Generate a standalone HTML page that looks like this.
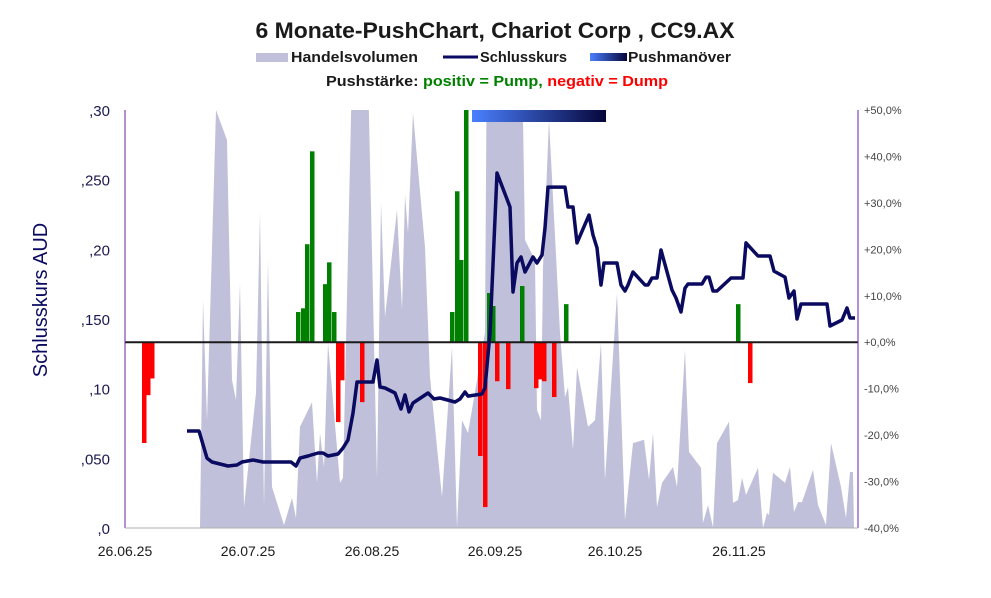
<!DOCTYPE html>
<html><head><meta charset="utf-8"><style>
body{margin:0;background:#fff;}
svg text{font-family:"Liberation Sans",sans-serif;}
</style></head><body>
<svg id="c" width="991" height="593" viewBox="0 0 991 593" xmlns="http://www.w3.org/2000/svg">
<defs><linearGradient id="pg" x1="0" x2="1"><stop offset="0" stop-color="#4a80ff"/><stop offset="1" stop-color="#06063a"/></linearGradient>
<clipPath id="pc"><rect x="125" y="110" width="733" height="418"/></clipPath></defs>
<text x="495" y="38" text-anchor="middle" font-size="22.5" font-weight="bold" fill="#1a1a1a" textLength="479" lengthAdjust="spacingAndGlyphs">6 Monate-PushChart, Chariot Corp , CC9.AX</text>
<g>
<rect x="256" y="53" width="32" height="9" fill="#c0c0da"/>
<text x="291" y="62" font-size="15" font-weight="bold" fill="#1a1a1a" textLength="127" lengthAdjust="spacingAndGlyphs">Handelsvolumen</text>
<line x1="443" y1="57" x2="478" y2="57" stroke="#0a0a60" stroke-width="3"/>
<text x="480" y="62" font-size="15" font-weight="bold" fill="#1a1a1a" textLength="87" lengthAdjust="spacingAndGlyphs">Schlusskurs</text>
<rect x="590" y="53" width="37" height="8" fill="url(#pg)"/>
<text x="628" y="62" font-size="15" font-weight="bold" fill="#1a1a1a" textLength="103" lengthAdjust="spacingAndGlyphs">Pushmanöver</text>
<text x="326" y="86" font-size="15" font-weight="bold" fill="#1a1a1a" textLength="342" lengthAdjust="spacingAndGlyphs">Pushstärke:  <tspan fill="#008000">positiv = Pump,</tspan>  <tspan fill="#ff0000">negativ = Dump</tspan></text>
</g>
<text transform="translate(47,300) rotate(-90)" text-anchor="middle" font-size="20" fill="#0a0a60">Schlusskurs AUD</text>
<g id="plot"></g>
</svg>
<script>
const volDays=[18.75,19.5,20.5,22.75,25.5,26.75,27.75,28.75,29.75,32.75,33.75,34.75,35.75,36.75,39.75,41.75,42.75,43.75,46.75,48,48.75,49.75,50.75,53.75,54.5,57,60.5,63,64,65,68,69.25,70,70.75,72,75,76.25,79.25,81.75,83,84.25,85.75,90,90.5,95,99.5,100,102.5,103,104,104.5,106,108.75,110,110.75,112,113,115.75,117.5,119,120,123,125,127,129.75,131,132,133,134.25,137,138,140,141,144,144.5,145.75,147,148,151,152,153.25,154.25,155.25,158.25,159.5,160.5,161,162,165,166.25,167.25,168.25,169.25,172,173.25,175.25,176.5,179,180.25,181.25,182,182.25];
const volVals=[0,54.5,25.8,100,92.8,35.4,30.6,58.6,5,32.3,75.4,5,64.1,9.8,0.7,7.2,2.4,24.2,30.1,10.8,22.7,14.6,44.3,10.8,12,120,120,12,77.8,50.5,76.1,52.2,79.7,70.6,99.3,67.2,36.1,7.4,43.3,0.2,25.8,22.7,46.7,120,130,97.6,68.9,64.1,28.2,25.8,62.4,97.6,46.7,31.3,33.7,18.7,38.5,24.2,25.8,44.3,11.5,56.2,1.9,20.3,21.1,11.5,22.7,5,10.8,14.6,9.8,42.6,18.2,14.4,1.2,5.5,0.2,20.3,25.4,6,6.7,12,7.9,14.4,0,3.6,3.1,13.2,10.8,14.6,3.8,6.2,6.2,13.9,5.5,0.7,20.3,9.8,2.4,13.4,13.4,0];
const priceDays=[15.5,18.5,20.5,21.75,25.75,28,29.25,32,34.5,41.5,42.75,43.75,45.75,48.25,49.5,50.75,53.25,54.5,55.75,57,58,62,63,63.75,65,67.5,69,70,71,72,75.75,77.25,78.75,82.5,83.75,85,85.75,89.25,90,91.25,93,96.25,97,98,99,100,102,103,104.25,105,105.75,110,110.75,112,113,116,117,118,119,119.75,123,124,125,125.75,127,130,130.75,131.75,133,134,136.75,137.75,139,140,140.75,144.25,145.25,146,147,148,151.5,154.5,155.25,158.25,161.25,162.25,165,166,167.25,168,169,175.5,176.25,179.25,180.5,181.25,182.5];
const priceVals=[0.0696,0.0696,0.0502,0.0474,0.0445,0.0452,0.0474,0.0488,0.0474,0.0474,0.0445,0.0502,0.0517,0.0538,0.0538,0.0517,0.0531,0.0574,0.0632,0.0825,0.1048,0.1048,0.1206,0.1012,0.1005,0.0969,0.0854,0.0955,0.0833,0.0897,0.0969,0.0926,0.0933,0.0904,0.0926,0.0976,0.0947,0.0962,0.1005,0.1400,0.2548,0.2304,0.1694,0.1902,0.1945,0.1837,0.1945,0.1902,0.1959,0.2153,0.2447,0.2447,0.2304,0.2304,0.2046,0.2246,0.2103,0.2010,0.1744,0.1902,0.1902,0.1744,0.1701,0.1744,0.1837,0.1744,0.1744,0.1794,0.1794,0.1995,0.1708,0.1651,0.1550,0.1722,0.1751,0.1751,0.1801,0.1801,0.1701,0.1701,0.1794,0.1794,0.2046,0.1952,0.1952,0.1844,0.1801,0.1651,0.1701,0.1500,0.1608,0.1608,0.1450,0.1493,0.1579,0.1507,0.1507];
const pushDays=[4.5,5.5,6.5,43,44.25,45.25,46.5,49.75,50.75,52,53,54,59,81.5,82.75,83.75,85,88.5,89.75,90.75,91.75,92.75,95.5,99,102.5,103.5,104.5,107,110,153,156];
const pushVals=[-21.7,-11.4,-7.8,6.5,7.3,21.1,41.1,12.5,17.2,6.5,-17.2,-8.2,-12.9,6.5,32.5,17.7,55,-24.5,-35.5,10.6,7.8,-8.4,-10.1,12.1,-9.9,-8,-8.4,-11.8,8.2,8.2,-8.8];
const pushManeuverStart=86.75, pushManeuverEnd=120.25;
const leftTicks=[0,0.05,0.10,0.15,0.20,0.25,0.30];
const leftTickLabels=[",0",",050",",10",",150",",20",",250",",30"];
const rightTicks=[-40,-30,-20,-10,0,10,20,30,40,50];
const dateTickDays=[0,30.75,61.75,92.5,122.5,153.5];
const dateTickLabels=["26.06.25","26.07.25","26.08.25","26.09.25","26.10.25","26.11.25"];

const L=125,R=858,T=110,B=528,NS="http://www.w3.org/2000/svg";
const xS=d=>L+d*4;
const yP=v=>B-v/0.30*(B-T);
const yV=v=>B-v/100*(B-T);
const yR=p=>B-(p+40)/90*(B-T);
const plot=document.getElementById('plot');
function mk(tag,attrs,parent){const e=document.createElementNS(NS,tag);for(const k in attrs)e.setAttribute(k,attrs[k]);(parent||plot).appendChild(e);return e;}
const clipG=mk('g',{'clip-path':'url(#pc)'});


let d='M'+xS(volDays[0])+','+B;
volDays.forEach((dd,i)=>{d+=' L'+xS(dd).toFixed(1)+','+yV(volVals[i]).toFixed(1);});
d+=' L'+xS(volDays[volDays.length-1])+','+B+' Z';
const va=mk('path',{d:d,fill:'#c0c0da'},clipG);


pushDays.forEach((dd,i)=>{
  const v=pushVals[i],y0=yR(0),y1=yR(v);
  const r=mk('rect',{x:xS(dd)-1,y:Math.min(y0,y1),width:4.5,height:Math.abs(y1-y0),fill:v>=0?'#008000':'#ff0000'},clipG);
  
  
});
const zl=mk('line',{x1:L,x2:R,y1:yR(0),y2:yR(0),stroke:'#1a1a1a','stroke-width':2});


const pm=mk('rect',{x:xS(pushManeuverStart),y:T,width:xS(pushManeuverEnd)-xS(pushManeuverStart),height:12,fill:'url(#pg)'});


const pl=mk('polyline',{points:priceDays.map((dd,i)=>xS(dd).toFixed(1)+','+yP(priceVals[i]).toFixed(1)).join(' '),fill:'none',stroke:'#0a0a60','stroke-width':3.5,'stroke-linejoin':'round'});


const la=mk('line',{x1:L,x2:L,y1:T,y2:B,stroke:'#6a20b0','stroke-width':1});


const ra=mk('line',{x1:R,x2:R,y1:T,y2:B,stroke:'#6a20b0','stroke-width':1});


const ba=mk('line',{x1:L,x2:R,y1:B,y2:B,stroke:'#b0b0b0','stroke-width':1});


leftTicks.forEach((v,i)=>{
  const t=mk('text',{x:110,y:yP(v)+6,'text-anchor':'end','font-size':15,fill:'#1a1a50'});
  t.textContent=leftTickLabels[i];
  
  
});
rightTicks.forEach(p=>{
  const t=mk('text',{x:864,y:yR(p)+4,'font-size':11,fill:'#444'});
  t.textContent=(p>0?'+':p<0?'-':'+')+Math.abs(p).toFixed(1).replace('.',',')+'%';
  
  
});
dateTickDays.forEach((dd,i)=>{
  const t=mk('text',{x:xS(dd),y:556,'text-anchor':'middle','font-size':14,fill:'#1a1a1a'});
  t.textContent=dateTickLabels[i];
  
  
});
</script>
</body></html>
